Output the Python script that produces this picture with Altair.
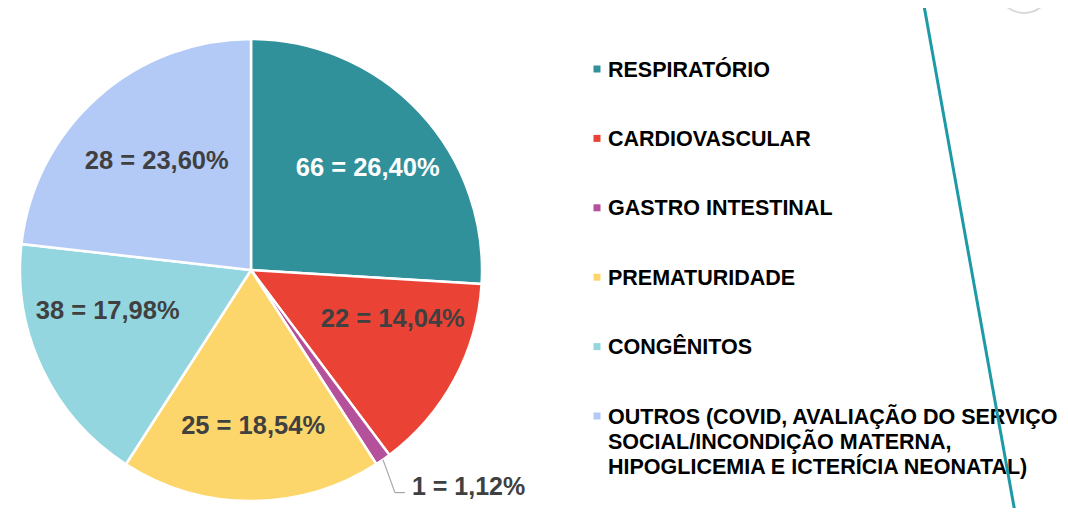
import altair as alt
import pandas as pd

# ---- data ----
categories = [
    "RESPIRATÓRIO",
    "CARDIOVASCULAR",
    "GASTRO INTESTINAL",
    "PREMATURIDADE",
    "CONGÊNITOS",
    "OUTROS (COVID, AVALIAÇÃO DO SERVIÇO|SOCIAL/INCONDIÇÃO MATERNA,|HIPOGLICEMIA E ICTERÍCIA NEONATAL)",
]
counts = [66, 22, 1, 25, 38, 28]
percents = [26.40, 14.04, 1.12, 18.54, 17.98, 23.60]
colors = ["#31919B", "#EA4335", "#B5509A", "#FDD66B", "#93D6DF", "#B3CAF7"]

labels = [f"{c} = {p:.2f}%".replace(".", ",") for c, p in zip(counts, percents)]

df = pd.DataFrame({
    "idx": list(range(len(categories))),
    "cat": categories,
    "pct": percents,
    "label": labels,
})

# ---- layout constants (pixels, chart coordinates) ----
W, H = 1052, 500
CX, CY, R = 243, 262, 231
LR = 152
FONT = "Liberation Sans"
# manual label nudges (like hand-placed data labels), px
NUDGE = {0: (6, 2), 1: (8, -23), 3: (2, 4), 4: (-6, -24), 5: (7, 4)}


def nudge_expr(k):
    expr = "0"
    for i, v in NUDGE.items():
        expr = f"datum.idx == {i} ? {v[k]} : ({expr})"
    return expr


base = alt.Chart(df).transform_joinaggregate(
    total="sum(pct)"
).transform_window(
    cum="sum(pct)", sort=[alt.SortField("idx")], frame=[None, 0]
).transform_calculate(
    a0="(datum.cum - datum.pct) / datum.total * 2 * PI",
    a1="datum.cum / datum.total * 2 * PI",
).transform_calculate(
    mid="(datum.a0 + datum.a1) / 2",
).transform_calculate(
    lx=f"{CX} + {LR} * sin(datum.mid) + ({nudge_expr(0)})",
    ly=f"{CY} - {LR} * cos(datum.mid) + ({nudge_expr(1)})",
    ex=f"{CX} + {R} * sin(datum.mid)",
    ey=f"{CY} - {R} * cos(datum.mid)",
)

pie = base.mark_arc(outerRadius=R, stroke="white", strokeWidth=2.5).encode(
    theta=alt.Theta("a0:Q", scale=None),
    theta2="a1:Q",
    x=alt.value(CX),
    y=alt.value(CY),
    color=alt.Color("cat:N", scale=alt.Scale(domain=categories, range=colors), legend=None),
)

inner_labels = base.transform_filter("datum.idx != 2").mark_text(
    font=FONT, fontSize=25.5, fontWeight="bold", align="center", baseline="middle"
).encode(
    x=alt.X("lx:Q", scale=None),
    y=alt.Y("ly:Q", scale=None),
    text="label:N",
    color=alt.condition("datum.idx == 0", alt.value("white"), alt.value("#404040")),
)

small = base.transform_filter("datum.idx == 2").transform_calculate(
    bx="datum.ex + 12", by="datum.ey + 33", fx="datum.ex + 22", tx="datum.ex + 29"
)
lead1 = small.mark_rule(color="#A6A6A6", strokeWidth=1.2).encode(
    x=alt.X("ex:Q", scale=None), y=alt.Y("ey:Q", scale=None),
    x2="bx:Q", y2="by:Q",
)
lead2 = small.mark_rule(color="#A6A6A6", strokeWidth=1.2).encode(
    x=alt.X("bx:Q", scale=None), y=alt.Y("by:Q", scale=None),
    x2="fx:Q", y2="by:Q",
)
out_label = small.mark_text(
    font=FONT, fontSize=25, fontWeight="bold", align="left", baseline="alphabetic",
    color="#404040", dy=2,
).encode(
    x=alt.X("tx:Q", scale=None), y=alt.Y("by:Q", scale=None), text="label:N",
)

leg_y = alt.Y("idx:Q", scale=alt.Scale(domain=[0, 5], range=[61, 408]), axis=None)
leg_sq = alt.Chart(df).mark_point(shape="square", filled=True, size=49, opacity=1).encode(
    x=alt.value(589),
    y=leg_y,
    color=alt.Color("cat:N", scale=alt.Scale(domain=categories, range=colors), legend=None),
)
leg_txt = alt.Chart(df).transform_calculate(
    lines="split(datum.cat, '|')"
).mark_text(
    font=FONT, fontSize=21.5, fontWeight="bold", align="left", baseline="alphabetic",
    dy=7.5, lineHeight=25, color="#000000",
).encode(
    x=alt.value(600),
    y=leg_y,
    text="lines:N",
)

deco_line = alt.Chart(df).transform_filter("datum.idx == 0").mark_rule(
    color="#1E9AA6", strokeWidth=3
).encode(x=alt.value(915), y=alt.value(-8), x2=alt.value(1008), y2=alt.value(510))
deco_circle = alt.Chart(df).transform_filter("datum.idx == 0").mark_point(
    shape="circle", filled=False, size=2900, color="#D9D9D9", strokeWidth=2, opacity=1
).encode(x=alt.value(1016), y=alt.value(-22))

chart = alt.layer(
    deco_circle, pie, inner_labels, lead1, lead2, out_label, leg_sq, leg_txt, deco_line
).resolve_scale(y="independent").properties(
    width=W, height=H, autosize=alt.AutoSizeParams(type="none"), padding=0
).configure_view(stroke=None)

chart.save("out.html", embed_options={"renderer": "svg", "actions": False})
